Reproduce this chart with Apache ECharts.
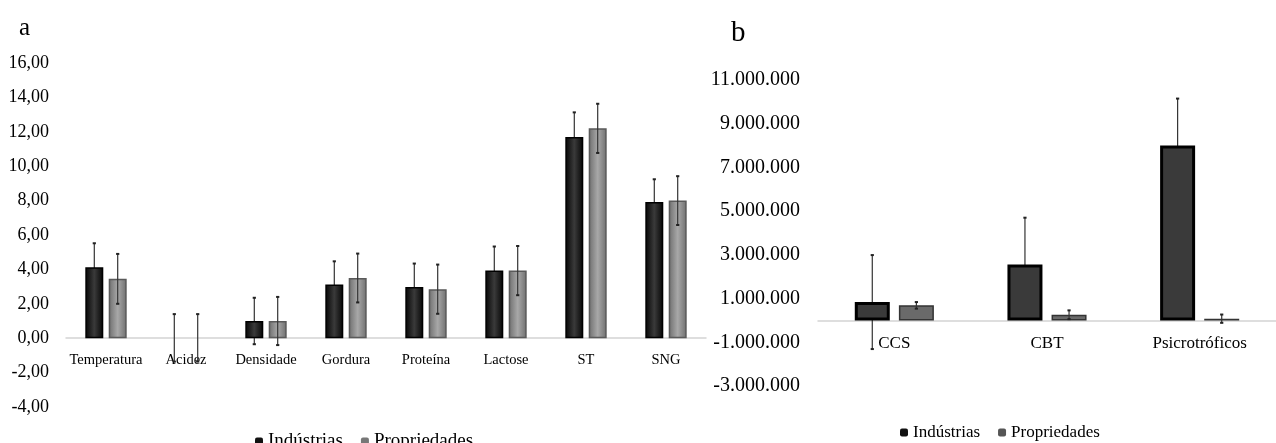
<!DOCTYPE html>
<html>
<head>
<meta charset="utf-8">
<script src="https://cdn.jsdelivr.net/npm/echarts@6/dist/echarts.min.js"></script>
<style>
html,body{margin:0;padding:0;background:#fff;}
#chart{width:1276px;height:443px;}
</style>
</head>
<body>
<div id="chart"></div>
<script>
// ---- data ----
var catsA = ['Temperatura', 'Acidez', 'Densidade', 'Gordura', 'Proteína', 'Lactose', 'ST', 'SNG'];
var indA = [4.12, 0.02, 1.0, 3.12, 2.97, 3.93, 11.7, 7.92];
var indAsd = [1.4, 1.38, 1.35, 1.35, 1.37, 1.4, 1.43, 1.32];
var propA = [3.45, 0.02, 1.0, 3.5, 2.85, 3.93, 12.2, 8.0];
var propAsd = [1.45, 1.38, 1.4, 1.42, 1.43, 1.43, 1.43, 1.42];

var catsB = ['CCS', 'CBT', 'Psicrotróficos'];
var indB = [840000, 2560000, 8000000];
var indBsd = [2150000, 2140000, 2150000];
var propB = [690000, 260000, 80000];
var propBsd = [150000, 200000, 190000];

var seriesNames = ['Indústrias', 'Propriedades'];

// ---- helpers ----
var FONT = 'Liberation Serif';
function fmtA(v) { return v.toFixed(2).replace('.', ','); }
function fmtB(v) {
  var m = Math.round(v / 1e6);
  if (m % 2 === 0) return '';
  var s = Math.abs(Math.round(v)).toString().replace(/\B(?=(\d{3})+(?!\d))/g, '.');
  return (v < 0 ? '-' : '') + s;
}
function errSeries(name, xi, vals, sds, off, z) {
  return {
    type: 'custom', name: name, xAxisIndex: xi, yAxisIndex: xi, z: z, silent: true,
    data: vals.map(function (v, i) { return [i, v, sds[i]]; }),
    renderItem: function (params, api) {
      var i = api.value(0), v = api.value(1), s = api.value(2);
      var p1 = api.coord([i, v + s]), p2 = api.coord([i, v - s]);
      var x = p1[0] + off;
      return {
        type: 'group', children: [
          { type: 'line', shape: { x1: x, y1: p1[1], x2: x, y2: p2[1] }, style: { stroke: '#333', lineWidth: 1.2 } },
          { type: 'line', shape: { x1: x - 1.6, y1: p1[1], x2: x + 1.6, y2: p1[1] }, style: { stroke: '#222', lineWidth: 2 } },
          { type: 'line', shape: { x1: x - 1.6, y1: p2[1], x2: x + 1.6, y2: p2[1] }, style: { stroke: '#222', lineWidth: 2 } }
        ]
      };
    }
  };
}
function hgrad(edge, mid) {
  return { type: 'linear', x: 0, y: 0, x2: 1, y2: 0, colorStops: [
    { offset: 0, color: edge }, { offset: 0.5, color: mid }, { offset: 1, color: edge }] };
}
// near-zero bars are drawn without an outline (they are invisible in the source)
function barData(vals, tiny) {
  return vals.map(function (v) {
    return Math.abs(v) < tiny ? { value: v, itemStyle: { borderWidth: 0, opacity: 0 } } : v;
  });
}

var chart = echarts.init(document.getElementById('chart'));
var option = {
  backgroundColor: '#fff',
  animation: false,
  textStyle: { fontFamily: FONT, color: '#000' },
  graphic: [
    { type: 'text', left: 19, top: 16, style: { text: 'a', font: '25px "Liberation Serif"', fill: '#000' } },
    { type: 'text', left: 731, top: 19, style: { text: 'b', font: '29px "Liberation Serif"', fill: '#000' } }
  ],
  legend: [
    { left: 250, top: 427, itemWidth: 8, itemHeight: 8, itemGap: 18,
      textStyle: { fontFamily: FONT, fontSize: 19, color: '#000' },
      data: [{ name: seriesNames[0], itemStyle: { color: '#111', borderWidth: 0 } },
             { name: seriesNames[1], itemStyle: { color: '#777', borderWidth: 0 } }] },
    { left: 895, top: 419, itemWidth: 8, itemHeight: 8, itemGap: 18,
      textStyle: { fontFamily: FONT, fontSize: 17, color: '#000' },
      data: [{ name: seriesNames[0], itemStyle: { color: '#111', borderWidth: 0 } },
             { name: seriesNames[1], itemStyle: { color: '#555', borderWidth: 0 } }] }
  ],
  grid: [
    { left: 66, width: 640, top: 63, height: 344 },
    { left: 818, width: 460, top: 80, height: 306 }
  ],
  xAxis: [
    { type: 'category', gridIndex: 0, data: catsA, offset: -68.8,
      axisLine: { onZero: false, lineStyle: { color: '#d4d4d4', width: 1.5 } },
      axisTick: { show: false },
      axisLabel: { interval: 0, fontFamily: FONT, fontSize: 14.5, color: '#000', margin: 14 } },
    { type: 'category', gridIndex: 1, data: catsB, offset: -65.6,
      axisLine: { onZero: false, lineStyle: { color: '#d4d4d4', width: 1.5 } },
      axisTick: { show: false },
      axisLabel: { interval: 0, fontFamily: FONT, fontSize: 17, color: '#000', margin: 15 } }
  ],
  yAxis: [
    { type: 'value', gridIndex: 0, min: -4, max: 16, interval: 2,
      axisLine: { show: false }, axisTick: { show: false }, splitLine: { show: false },
      axisLabel: { fontFamily: FONT, fontSize: 18, color: '#000', margin: 17, formatter: fmtA } },
    { type: 'value', gridIndex: 1, min: -3000000, max: 11000000, interval: 1000000,
      axisLine: { show: false }, axisTick: { show: false }, splitLine: { show: false },
      axisLabel: { fontFamily: FONT, fontSize: 20, color: '#000', margin: 18, formatter: fmtB } }
  ],
  series: [
    { type: 'bar', name: seriesNames[0], xAxisIndex: 0, yAxisIndex: 0, data: barData(indA, 0.1), z: 3,
      barWidth: 18, barGap: '30%',
      itemStyle: { color: hgrad('#050505', '#3a3a3a'), borderColor: '#000', borderWidth: 1.5 } },
    { type: 'bar', name: seriesNames[1], xAxisIndex: 0, yAxisIndex: 0, data: barData(propA, 0.1), z: 3,
      barWidth: 18, barGap: '30%',
      itemStyle: { color: hgrad('#6e6e6e', '#a8a8a8'), borderColor: '#5a5a5a', borderWidth: 1.5 } },
    errSeries(seriesNames[0], 0, indA, indAsd, -11.7, 2),
    errSeries(seriesNames[1], 0, propA, propAsd, 11.7, 5),
    { type: 'bar', name: seriesNames[0], xAxisIndex: 1, yAxisIndex: 1, data: indB, z: 3,
      barWidth: 35, barGap: '26%',
      itemStyle: { color: '#3a3a3a', borderColor: '#000', borderWidth: 3 } },
    { type: 'bar', name: seriesNames[1], xAxisIndex: 1, yAxisIndex: 1, data: propB, z: 3,
      barWidth: 35, barGap: '26%',
      itemStyle: { color: '#6a6a6a', borderColor: '#333', borderWidth: 1.5 } },
    errSeries(seriesNames[0], 1, indB, indBsd, -22.05, 2),
    errSeries(seriesNames[1], 1, propB, propBsd, 22.05, 5)
  ]
};
chart.setOption(option);
</script>
</body>
</html>
